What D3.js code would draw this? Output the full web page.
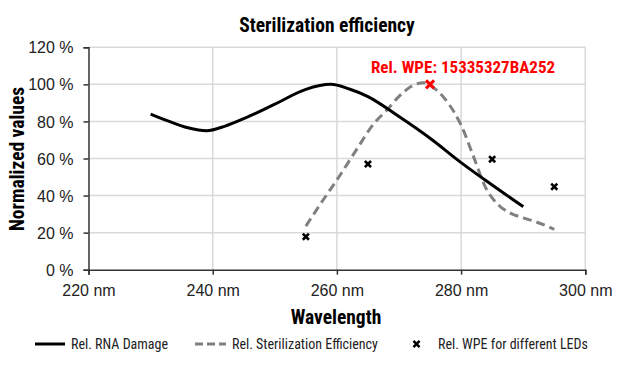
<!DOCTYPE html>
<html>
<head>
<meta charset="utf-8">
<script src="https://cdn.jsdelivr.net/npm/d3@7"></script>
<style>
  body { margin: 0; background: #fff; }
  svg { font-family: "Liberation Sans Narrow", "Arial Narrow", "Roboto Condensed", sans-serif; }
</style>
</head>
<body>
<svg id="chart" width="619" height="367"></svg>
<script>
// data
const xTicks = [220, 240, 260, 280, 300];
const yTicks = [0, 20, 40, 60, 80, 100, 120];

const rnaWl  = [230, 233, 236, 239, 242, 245, 250, 255, 259, 262, 265, 270, 275, 280, 285, 290];
const rnaVal = [84, 80, 76.6, 75, 77.5, 81.5, 89.3, 97.3, 100, 97.5, 93.4, 82.6, 70.9, 57.8, 45.7, 34];

const sterWl  = [255, 258, 260, 263, 266, 268, 270, 272, 274, 276, 278, 280, 282, 284, 286, 288, 290, 292, 295];
const sterVal = [23.5, 38.7, 48.4, 64, 79, 86, 93.5, 99, 100.9, 97, 89.5, 78, 61, 44, 35, 30.4, 28, 25.9, 21.8];

const ledWl  = [255, 265, 285, 295];
const ledVal = [17.8, 57, 59.6, 44.8];

const hiWl = 275, hiVal = 100;
const hiLabel = "Rel. WPE: 15335327BA252";

const width = 619, height = 367;
const margin = {top: 47.3, right: 33.7, bottom: 97.3, left: 88.5};

const svg = d3.select("#chart");

const x = d3.scaleLinear([220, 300], [margin.left, width - margin.right]);
const y = d3.scaleLinear([0, 120], [height - margin.bottom, margin.top]);

// grid
const grid = svg.append("g")
    .attr("stroke", "#d9d9d9")
    .attr("stroke-width", 1.5);
grid.selectAll("line.h")
  .data(yTicks.filter(d => d > 0))
  .join("line")
    .attr("x1", margin.left).attr("x2", width - margin.right)
    .attr("y1", d => y(d)).attr("y2", d => y(d));
grid.selectAll("line.v")
  .data(xTicks.filter(d => d > 220))
  .join("line")
    .attr("x1", d => x(d)).attr("x2", d => x(d))
    .attr("y1", margin.top).attr("y2", height - margin.bottom);

// axes
const xAxis = svg.append("g")
    .attr("transform", `translate(0,${height - margin.bottom})`)
    .call(d3.axisBottom(x).tickValues(xTicks).tickSize(5).tickPadding(10).tickFormat(d => d + " nm"));
const yAxis = svg.append("g")
    .attr("transform", `translate(${margin.left},0)`)
    .call(d3.axisLeft(y).tickValues(yTicks).tickSize(5).tickPadding(10).tickFormat(d => d + " %"));

[xAxis, yAxis].forEach(g => {
  g.select(".domain").attr("stroke", "#333").attr("stroke-width", 1.5);
  g.selectAll(".tick line").attr("stroke", "#333").attr("stroke-width", 1.5);
  g.selectAll(".tick text")
    .attr("fill", "#222")
    .style("font-family", "inherit")
    .style("font-size", "16px");
});
yAxis.selectAll(".tick text").attr("dy", "0.35em");

// lines
const line = d3.line()
    .x(d => x(d[0]))
    .y(d => y(d[1]))
    .curve(d3.curveMonotoneX);

svg.append("path")
    .datum(sterWl.map((w, i) => [w, sterVal[i]]))
    .attr("fill", "none")
    .attr("stroke", "#808080")
    .attr("stroke-width", 3)
    .attr("stroke-dasharray", "9,5")
    .attr("d", line);

svg.append("path")
    .datum(rnaWl.map((w, i) => [w, rnaVal[i]]))
    .attr("fill", "none")
    .attr("stroke", "#000")
    .attr("stroke-width", 3)
    .attr("d", line);

// LED markers
const cross = d3.symbol(d3.symbolTimes);
svg.append("g")
  .selectAll("path")
  .data(ledWl.map((w, i) => [w, ledVal[i]]))
  .join("path")
    .attr("transform", d => `translate(${x(d[0])},${y(d[1])})`)
    .attr("d", cross.size(26))
    .attr("fill", "none")
    .attr("stroke", "#000")
    .attr("stroke-width", 2.6);

// highlighted LED
svg.append("path")
    .attr("transform", `translate(${x(hiWl)},${y(hiVal)})`)
    .attr("d", d3.symbol(d3.symbolTimes).size(44)())
    .attr("fill", "none")
    .attr("stroke", "#ff0000")
    .attr("stroke-width", 3);

svg.append("text")
    .attr("x", x(hiWl) + 33)
    .attr("y", 73)
    .attr("text-anchor", "middle")
    .attr("fill", "#ff0000")
    .style("font-weight", "bold")
    .style("font-size", "17px")
    .text(hiLabel);

// titles
svg.append("text")
    .attr("x", 327)
    .attr("y", 32)
    .attr("text-anchor", "middle")
    .style("font-weight", "bold")
    .style("font-size", "19.5px")
    .text("Sterilization efficiency");

svg.append("text")
    .attr("x", 336)
    .attr("y", 324)
    .attr("text-anchor", "middle")
    .style("font-weight", "bold")
    .style("font-size", "19.5px")
    .text("Wavelength");

svg.append("text")
    .attr("transform", `translate(24,159) rotate(-90)`)
    .attr("text-anchor", "middle")
    .style("font-weight", "bold")
    .style("font-size", "19.5px")
    .text("Normalized values");

// legend
const legend = svg.append("g").attr("transform", "translate(0,344)");
legend.append("line")
    .attr("x1", 35).attr("x2", 65)
    .attr("stroke", "#000").attr("stroke-width", 3);
legend.append("text").attr("x", 71).attr("dy", "0.35em")
    .style("font-size", "14px").attr("fill", "#222").text("Rel. RNA Damage");
legend.append("line")
    .attr("x1", 195).attr("x2", 226)
    .attr("stroke", "#808080").attr("stroke-width", 3).attr("stroke-dasharray", "8,4");
legend.append("text").attr("x", 232).attr("dy", "0.35em")
    .style("font-size", "14px").attr("fill", "#222").text("Rel. Sterilization Efficiency");
legend.append("path")
    .attr("transform", "translate(416.5,0)")
    .attr("d", d3.symbol(d3.symbolTimes).size(26)())
    .attr("fill", "none").attr("stroke", "#000").attr("stroke-width", 2.6);
legend.append("text").attr("x", 438).attr("dy", "0.35em")
    .style("font-size", "14px").attr("fill", "#222").text("Rel. WPE for different LEDs");
</script>
</body>
</html>
